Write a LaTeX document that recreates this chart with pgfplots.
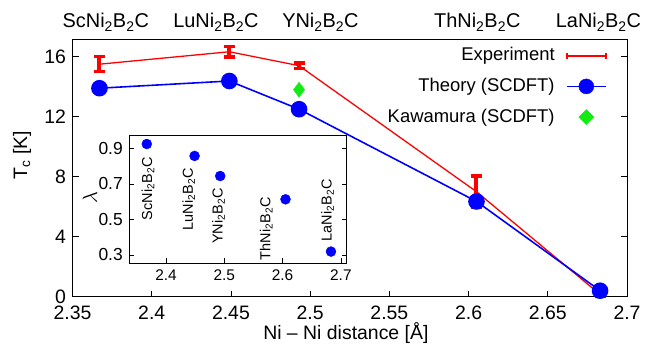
\documentclass[border=0pt]{standalone}
\usepackage{fontspec}
\setmainfont{Liberation Sans}
\usepackage{pgfplots}
\pgfplotsset{compat=1.18}
\definecolor{kgreen}{RGB}{20,235,20}
\begin{document}
\fontsize{19}{22}\selectfont
\begin{tikzpicture}
\begin{axis}[
  at={(0,0)}, anchor=south west,
  scale only axis, width=554.5bp, height=257.7bp,
  xmin=2.35, xmax=2.7, ymin=0, ymax=17.18,
  xtick={2.35,2.4,2.45,2.5,2.55,2.6,2.65,2.7},
  xticklabels={2.35,2.4,2.45,2.5,2.55,2.6,2.65,2.7},
  ytick={0,4,8,12,16},
  xtick pos=bottom, ytick pos=both,
  tick align=inside, major tick length=6bp,
  /pgf/number format/assume math mode=true,
  tick label style={font=\fontsize{19.5}{22}\selectfont},
  x tick label style={yshift=-3bp},
  label style={font=\fontsize{19.5}{22}\selectfont},
  xlabel={Ni -- Ni distance [Å]},
  ylabel={T\textsubscript{c} [K]},
  ylabel style={at={(axis description cs:-0.091,0.55)}, anchor=center},
  xlabel style={at={(axis description cs:0.493,-0.141)}, anchor=center},
  axis line style={line width=0.8pt},
  every tick/.style={line width=0.6pt, black},
  legend style={draw=none, fill=none, at={(axis cs:2.6874,16.75)}, anchor=north east,
    font=\fontsize{18.5}{22}\selectfont, row sep=10.5bp, inner sep=0pt},
  legend cell align=right,
  legend plot pos=right,
  clip=false,
]
\pgfplotstableread{
x y e
2.367 15.5 0.5
2.449 16.33 0.35
2.493 15.4 0.18
2.605 7.0 1.05
2.683 0.15 0.1
}\exptable
\addplot[red, line width=1.3pt, mark=none, forget plot] table[x=x, y=y] {\exptable};
\addplot[draw=none, line width=4bp, mark=none, forget plot,
  error bars/.cd, y dir=both, y explicit,
  error bar style={draw=red, line width=4bp},
  error mark options={rotate=90, mark size=5.5bp, line width=3.5bp, draw=red},
  ]
  table[x=x, y=y, y error=e] {\exptable};
\addlegendimage{legend image code/.code={
    \path (0bp,0bp);
    \draw[red, line width=1.6pt] (10bp,0bp) -- (49bp,0bp);
    \draw[red, line width=2pt] (10bp,-3bp) -- (10bp,3bp);
    \draw[red, line width=2pt] (49bp,-3bp) -- (49bp,3bp);}}
\addlegendentry{Experiment}
\addplot[blue, line width=1.6pt, mark=*, mark size=7.5bp, mark options={fill=blue},
  forget plot]
  coordinates {(2.367,13.9) (2.449,14.38) (2.493,12.5) (2.605,6.35) (2.683,0.4)};
\addlegendimage{legend image code/.code={
    \path (0bp,0bp);
    \draw[blue, line width=1.6pt] (10bp,0bp) -- (49bp,0bp);
    \fill[blue] (29.5bp,0bp) circle (7.5bp);}}
\addlegendentry{Theory (SCDFT)}
\addplot[only marks, mark=diamond*, mark size=7.5bp, color=kgreen, mark options={fill=kgreen}, forget plot]
  coordinates {(2.493,13.8)};
\addlegendimage{legend image code/.code={
    \path (0bp,0bp) (49bp,0bp);
    \fill[kgreen] (29.5bp,-7.5bp) -- (37bp,0bp) -- (29.5bp,7.5bp) -- (22bp,0bp) -- cycle;}}
\addlegendentry{Kawamura (SCDFT)}
\node[anchor=base, font=\fontsize{20}{22}\selectfont] at (axis cs:2.371,17.18) [yshift=11bp] {ScNi\textsubscript{2}B\textsubscript{2}C};
\node[anchor=base, font=\fontsize{20}{22}\selectfont] at (axis cs:2.4405,17.18) [yshift=11bp] {LuNi\textsubscript{2}B\textsubscript{2}C};
\node[anchor=base, font=\fontsize{20}{22}\selectfont] at (axis cs:2.5065,17.18) [yshift=11bp] {YNi\textsubscript{2}B\textsubscript{2}C};
\node[anchor=base, font=\fontsize{20}{22}\selectfont] at (axis cs:2.6055,17.18) [yshift=11bp] {ThNi\textsubscript{2}B\textsubscript{2}C};
\node[anchor=base, font=\fontsize{20}{22}\selectfont] at (axis cs:2.682,17.18) [yshift=11bp] {LaNi\textsubscript{2}B\textsubscript{2}C};
\end{axis}
\begin{axis}[
  at={(56.8bp,33.4bp)}, anchor=south west,
  scale only axis, width=217.4bp, height=128bp,
  xmin=2.337, xmax=2.71, ymin=0.253, ymax=0.973,
  xtick={2.4,2.5,2.6,2.7}, ytick={0.3,0.5,0.7,0.9},
  xticklabels={2.4,2.5,2.6,2.7}, yticklabels={0.3,0.5,0.7,0.9},
  xtick pos=bottom, ytick pos=both,
  tick align=inside, major tick length=5bp,
  axis background/.style={fill=white},
  x tick label style={font=\fontsize{15.5}{18}\selectfont},
  y tick label style={font=\fontsize{17.5}{20}\selectfont},
  ylabel={$\lambda$},
  ylabel style={font=\fontsize{20}{22}\selectfont, at={(axis description cs:-0.181,0.51)}, anchor=center},
  axis line style={line width=0.8pt},
  every tick/.style={line width=0.6pt, black},
  clip=false,
]
\addplot[only marks, mark=*, mark size=5bp, blue, mark options={fill=blue}]
  coordinates {(2.367,0.924) (2.449,0.857) (2.493,0.744) (2.605,0.613) (2.683,0.319)};
\begin{scope}[every node/.style={rotate=90, anchor=east, font=\fontsize{14.5}{16}\selectfont, inner sep=0pt}]
\node at (axis cs:2.369,0.851) {ScNi\textsubscript{2}B\textsubscript{2}C};
\node at (axis cs:2.439,0.789) {LuNi\textsubscript{2}B\textsubscript{2}C};
\node at (axis cs:2.490,0.677) {YNi\textsubscript{2}B\textsubscript{2}C};
\node at (axis cs:2.572,0.626) {ThNi\textsubscript{2}B\textsubscript{2}C};
\node at (axis cs:2.677,0.727) {LaNi\textsubscript{2}B\textsubscript{2}C};
\end{scope}
\end{axis}
\path[use as bounding box] (-72.5bp,-56.3bp) rectangle (579.5bp,296.7bp);
\end{tikzpicture}
\end{document}
